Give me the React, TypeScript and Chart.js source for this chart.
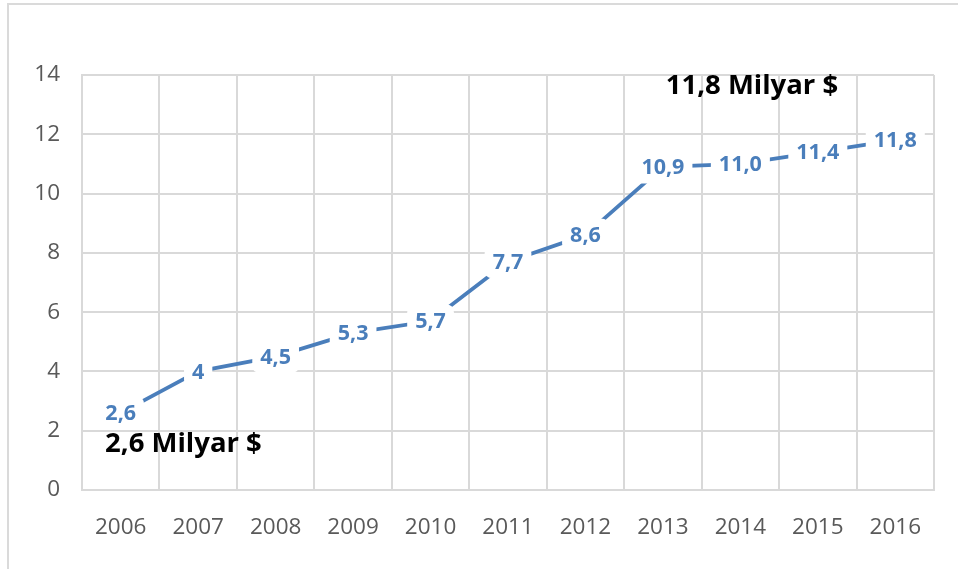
import React, { useEffect, useRef } from "react";
import { Chart, registerables } from "chart.js";

Chart.register(...registerables);

const years = ["2006", "2007", "2008", "2009", "2010", "2011", "2012", "2013", "2014", "2015", "2016"];
const values = [2.6, 4, 4.5, 5.3, 5.7, 7.7, 8.6, 10.9, 11.0, 11.4, 11.8];
const valueLabels = ["2,6", "4", "4,5", "5,3", "5,7", "7,7", "8,6", "10,9", "11,0", "11,4", "11,8"];
const yTicks = [0, 2, 4, 6, 8, 10, 12, 14];
const topNote = "11,8 Milyar $";
const bottomNote = "2,6 Milyar $";

const FONT = "'Open Sans', 'Noto Sans', sans-serif";
const BLUE = "#4a7ebb";
const GRID = "#d9d9d9";

function roundRect(ctx: CanvasRenderingContext2D, x: number, y: number, w: number, h: number, r: number) {
  ctx.beginPath();
  ctx.moveTo(x + r, y);
  ctx.lineTo(x + w - r, y);
  ctx.quadraticCurveTo(x + w, y, x + w, y + r);
  ctx.lineTo(x + w, y + h - r);
  ctx.quadraticCurveTo(x + w, y + h, x + w - r, y + h);
  ctx.lineTo(x + r, y + h);
  ctx.quadraticCurveTo(x, y + h, x, y + h - r);
  ctx.lineTo(x, y + r);
  ctx.quadraticCurveTo(x, y, x + r, y);
  ctx.closePath();
}

const labelPlugin = {
  id: "valueLabels",
  afterDatasetsDraw(chart: any) {
    const ctx = chart.ctx as CanvasRenderingContext2D;
    const meta = chart.getDatasetMeta(0);
    ctx.save();
    ctx.font = `bold 21.5px ${FONT}`;
    ctx.textAlign = "center";
    ctx.textBaseline = "middle";
    meta.data.forEach((pt: any, i: number) => {
      const text = valueLabels[i];
      const w = ctx.measureText(text).width;
      const padX = 8;
      const padY = 11;
      ctx.fillStyle = "#ffffff";
      roundRect(ctx, pt.x - w / 2 - padX, pt.y - 11 - padY / 2, w + padX * 2, 22 + padY, 8);
      ctx.fill();
      ctx.fillStyle = BLUE;
      ctx.fillText(text, pt.x, pt.y + 1);
    });
    ctx.restore();
  },
  afterDraw(chart: any) {
    const ctx = chart.ctx as CanvasRenderingContext2D;
    const xs = chart.scales.x;
    const ys = chart.scales.y;
    ctx.save();
    ctx.font = `bold 27.5px ${FONT}`;
    ctx.fillStyle = "#000000";
    ctx.textAlign = "center";
    ctx.textBaseline = "middle";
    ctx.fillText(topNote, xs.getPixelForValue(8.15), ys.getPixelForValue(13.62));
    ctx.fillText(bottomNote, xs.getPixelForValue(0.81), ys.getPixelForValue(1.55));
    ctx.restore();
  },
};

export default function App() {
  const ref = useRef<HTMLCanvasElement | null>(null);
  useEffect(() => {
    if (!ref.current) return;
    const chart = new Chart(ref.current, {
      type: "line",
      data: {
        labels: years,
        datasets: [
          {
            data: values,
            borderColor: BLUE,
            borderWidth: 3.8,
            pointRadius: 0,
            tension: 0,
            fill: false,
          },
        ],
      },
      options: {
        responsive: false,
        animation: false,
        layout: { padding: { left: 0, right: 24, top: 75, bottom: 0 } },
        plugins: { legend: { display: false }, tooltip: { enabled: false } },
        scales: {
          x: {
            type: "category",
            offset: true,
            grid: { offset: true, color: GRID, lineWidth: 2, drawTicks: false },
            border: { color: GRID, width: 2 },
            ticks: { color: "#595959", font: { family: FONT, size: 22.5 }, padding: 24, maxRotation: 0 },
            afterFit: (s: any) => {
              s.height = 79;
            },
          },
          y: {
            min: 0,
            max: 14,
            afterBuildTicks: (s: any) => {
              s.ticks = yTicks.map((v) => ({ value: v }));
            },
            grid: { color: GRID, lineWidth: 2, drawTicks: false },
            border: { color: GRID, width: 2 },
            ticks: { color: "#595959", font: { family: FONT, size: 22.5 }, padding: 22 },
            afterFit: (s: any) => {
              s.width = 82;
            },
          },
        },
      },
      plugins: [labelPlugin],
    });
    return () => chart.destroy();
  }, []);
  return (
    <div style={{ position: "fixed", left: 0, top: 0, width: 958, height: 569, background: "#fff", overflow: "hidden" }}>
      <div
        style={{
          position: "absolute",
          left: 7,
          top: 3,
          width: 980,
          height: 600,
          borderLeft: "2px solid #dadada",
          borderTop: "2px solid #dadada",
          boxSizing: "border-box",
        }}
      />
      <canvas ref={ref} width={958} height={569} style={{ position: "absolute", left: 0, top: 0 }} />
    </div>
  );
}
